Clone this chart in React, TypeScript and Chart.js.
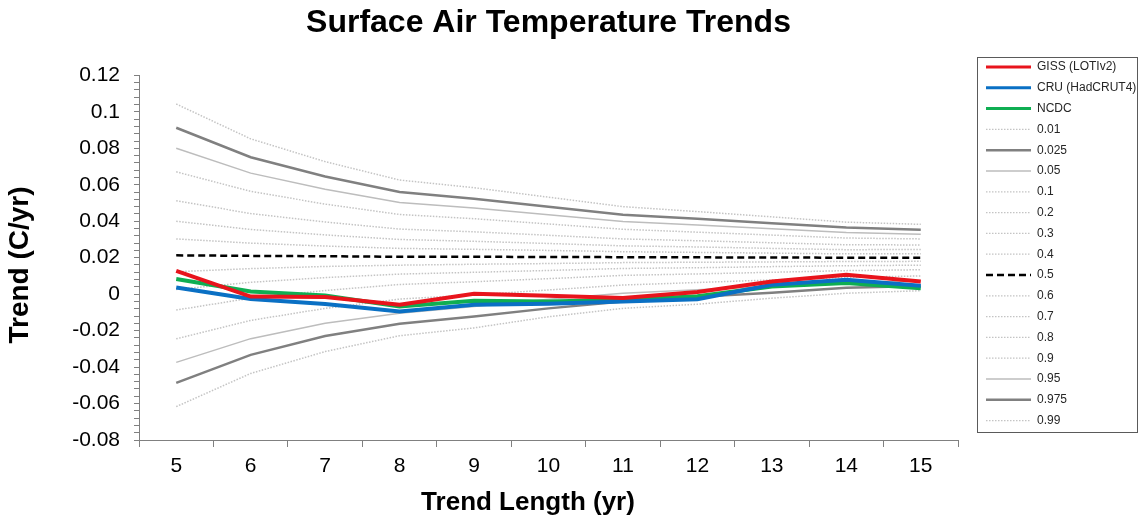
import React, { useEffect, useRef } from 'react';
import { Chart, registerables } from 'chart.js';

Chart.register(...registerables);

const FONT = "'Liberation Sans', Arial, Helvetica, sans-serif";

// ---- data ----
const trendLengths = ['5', '6', '7', '8', '9', '10', '11', '12', '13', '14', '15'];

const giss = [0.0128, -0.0013, -0.0016, -0.0058, 0.0002, -0.0009, -0.0021, 0.0012, 0.0070, 0.0107, 0.0070];
const cru = [0.0037, -0.0027, -0.0054, -0.0095, -0.0058, -0.0053, -0.0040, -0.0028, 0.0052, 0.0079, 0.0046];
const ncdc = [0.0083, 0.0015, -0.0007, -0.0068, -0.0036, -0.0040, -0.0030, -0.0012, 0.0042, 0.0061, 0.0033];

const p01 = [0.1043, 0.0852, 0.0727, 0.0626, 0.0584, 0.0532, 0.0480, 0.0453, 0.0424, 0.0395, 0.0383];
const p025 = [0.0913, 0.0751, 0.0645, 0.0560, 0.0524, 0.0480, 0.0436, 0.0414, 0.0389, 0.0365, 0.0353];
const p05 = [0.0800, 0.0664, 0.0575, 0.0503, 0.0473, 0.0436, 0.0399, 0.0380, 0.0359, 0.0338, 0.0328];
const p10 = [0.0671, 0.0564, 0.0494, 0.0437, 0.0414, 0.0385, 0.0356, 0.0340, 0.0324, 0.0308, 0.0303];
const p20 = [0.0513, 0.0442, 0.0396, 0.0357, 0.0342, 0.0323, 0.0303, 0.0293, 0.0282, 0.0271, 0.0270];
const p30 = [0.0400, 0.0355, 0.0325, 0.0300, 0.0290, 0.0278, 0.0265, 0.0259, 0.0251, 0.0244, 0.0245];
const p40 = [0.0303, 0.0280, 0.0264, 0.0251, 0.0246, 0.0240, 0.0233, 0.0229, 0.0225, 0.0221, 0.0222];
const p50 = [0.0213, 0.0210, 0.0208, 0.0205, 0.0205, 0.0204, 0.0203, 0.0202, 0.0201, 0.0200, 0.0200];
const p60 = [0.0123, 0.0140, 0.0152, 0.0159, 0.0164, 0.0168, 0.0173, 0.0175, 0.0177, 0.0179, 0.0180];
const p70 = [0.0026, 0.0065, 0.0091, 0.0110, 0.0120, 0.0130, 0.0141, 0.0145, 0.0151, 0.0156, 0.0159];
const p80 = [-0.0087, -0.0022, 0.0020, 0.0053, 0.0068, 0.0085, 0.0103, 0.0111, 0.0120, 0.0129, 0.0134];
const p90 = [-0.0245, -0.0144, -0.0078, -0.0027, -0.0004, 0.0023, 0.0050, 0.0064, 0.0078, 0.0092, 0.0100];
const p95 = [-0.0374, -0.0244, -0.0159, -0.0105, -0.0068, -0.0028, 0.0005, 0.0024, 0.0043, 0.0062, 0.0072];
const p975 = [-0.0487, -0.0333, -0.0230, -0.0162, -0.0122, -0.0078, -0.0040, -0.0014, 0.0008, 0.0035, 0.0045];
const p99 = [-0.0617, -0.0435, -0.0315, -0.0228, -0.0185, -0.0124, -0.0078, -0.0055, -0.0022, 0.0005, 0.0019];

const chartTitle = 'Surface Air Temperature Trends';
const xTitle = 'Trend Length (yr)';
const yTitle = 'Trend (C/yr)';

// ---- styles ----
const RED = '#e8141c';
const BLUE = '#0a70c4';
const GREEN = '#0fae52';
const DARK = '#808080';
const LIGHT = '#bdbdbd';
const DOT = '#c4c4c4';

type S = { color: string; width: number; dash: number[]; legendWidth: number };
const colored = (c: string): S => ({ color: c, width: 4, dash: [], legendWidth: 3 });
const dotted: S = { color: DOT, width: 1.5, dash: [1.5, 1.5], legendWidth: 1.2 };
const darkSolid: S = { color: DARK, width: 2.5, dash: [], legendWidth: 2.5 };
const lightSolid: S = { color: LIGHT, width: 1.5, dash: [], legendWidth: 1.5 };
const dashed: S = { color: '#000000', width: 2.5, dash: [7, 4], legendWidth: 2.5 };

const series: [string, number[], S][] = [
  ['GISS (LOTIv2)', giss, colored(RED)],
  ['CRU (HadCRUT4)', cru, colored(BLUE)],
  ['NCDC', ncdc, colored(GREEN)],
  ['0.01', p01, dotted],
  ['0.025', p025, darkSolid],
  ['0.05', p05, lightSolid],
  ['0.1', p10, dotted],
  ['0.2', p20, dotted],
  ['0.3', p30, dotted],
  ['0.4', p40, dotted],
  ['0.5', p50, dashed],
  ['0.6', p60, dotted],
  ['0.7', p70, dotted],
  ['0.8', p80, dotted],
  ['0.9', p90, dotted],
  ['0.95', p95, lightSolid],
  ['0.975', p975, darkSolid],
  ['0.99', p99, dotted],
];

// ---- legend / title layout ----
const LEG_LEFT = 977.5;
const LEG_TOP = 57.5;
const LEG_W = 160;
const LEG_H = 375;
const LEG_FIRST_Y = 67;
const LEG_STEP = 20.8;
const LEG_LINE_X0 = 986;
const LEG_LINE_X1 = 1031;
const LEG_TEXT_X = 1037;
const X_TITLE_POS = { x: 528, y: 503 };
const Y_TITLE_POS = { x: 20, y: 265 };

const boxLegend = {
  id: 'boxLegend',
  afterDraw(chart: any) {
    const c = chart.ctx as CanvasRenderingContext2D;
    c.save();
    c.strokeStyle = '#5a5a5a';
    c.lineWidth = 1;
    c.setLineDash([]);
    c.strokeRect(LEG_LEFT, LEG_TOP, LEG_W, LEG_H);
    chart.data.datasets.forEach((ds: any, i: number) => {
      const y = LEG_FIRST_Y + i * LEG_STEP;
      c.beginPath();
      c.strokeStyle = ds.borderColor;
      c.lineWidth = ds.legendWidth;
      c.setLineDash(ds.borderDash || []);
      c.moveTo(LEG_LINE_X0, y);
      c.lineTo(LEG_LINE_X1, y);
      c.stroke();
      c.setLineDash([]);
      c.fillStyle = '#262626';
      c.font = `12px ${FONT}`;
      c.textBaseline = 'middle';
      c.textAlign = 'left';
      c.fillText(ds.label, LEG_TEXT_X, y);
    });
    c.restore();
  },
};

const axisTitles = {
  id: 'axisTitles',
  afterDraw(chart: any) {
    const c = chart.ctx as CanvasRenderingContext2D;
    c.save();
    c.fillStyle = '#000000';
    c.textAlign = 'center';
    c.textBaseline = 'middle';
    c.font = `bold 26px ${FONT}`;
    c.fillText(xTitle, X_TITLE_POS.x, X_TITLE_POS.y);
    c.translate(Y_TITLE_POS.x, Y_TITLE_POS.y);
    c.rotate(-Math.PI / 2);
    c.font = `bold 28px ${FONT}`;
    c.fillText(yTitle, 0, 0);
    c.restore();
  },
};

export default function App() {
  const ref = useRef<HTMLCanvasElement>(null);

  useEffect(() => {
    document.body.style.margin = '0';
    const canvas = ref.current;
    if (!canvas) return;
    const chart = new Chart(canvas, {
      type: 'line',
      data: {
        labels: trendLengths,
        datasets: series.map(([label, values, st]) => ({
          label,
          data: values,
          borderColor: st.color,
          backgroundColor: st.color,
          borderWidth: st.width,
          borderDash: st.dash,
          legendWidth: st.legendWidth,
          pointRadius: 0,
          pointHoverRadius: 0,
          tension: 0,
          fill: false,
        })) as any,
      },
      options: {
        responsive: false,
        animation: false,
        events: [],
        layout: { padding: { left: 0, right: 180, top: 0, bottom: 0 } },
        plugins: {
          legend: { display: false },
          tooltip: { enabled: false },
          title: {
            display: true,
            text: chartTitle,
            fullSize: false,
            color: '#000000',
            font: { family: FONT, size: 32, weight: 'bold' },
            padding: { top: 4, bottom: 33 },
          },
        },
        scales: {
          x: {
            type: 'category',
            offset: true,
            grid: {
              offset: true,
              drawOnChartArea: false,
              drawTicks: true,
              tickLength: 7,
              color: '#808080',
            },
            border: { display: true, color: '#808080', width: 1 },
            ticks: {
              color: '#000000',
              font: { family: FONT, size: 21 },
              padding: 7,
              maxRotation: 0,
            },
            afterFit: (s: any) => {
              s.height = 80;
            },
          },
          y: {
            min: -0.08,
            max: 0.12,
            grid: {
              drawOnChartArea: false,
              drawTicks: true,
              tickLength: 5,
              color: '#808080',
            },
            border: { display: true, color: '#808080', width: 1 },
            ticks: {
              stepSize: 0.004,
              autoSkip: false,
              color: '#000000',
              font: { family: FONT, size: 21 },
              padding: 14,
              callback: (v: any) => {
                const n = Number(v);
                const k = n / 0.02;
                if (Math.abs(k - Math.round(k)) > 1e-6) return '';
                return String(Math.round(n * 100) / 100);
              },
            },
            afterFit: (s: any) => {
              s.width = 139;
            },
          },
        },
      } as any,
      plugins: [boxLegend, axisTitles],
    });
    return () => chart.destroy();
  }, []);

  return (
    <div style={{ width: 1138, height: 520 }}>
      <canvas ref={ref} width={1138} height={520} style={{ display: 'block' }} />
    </div>
  );
}
